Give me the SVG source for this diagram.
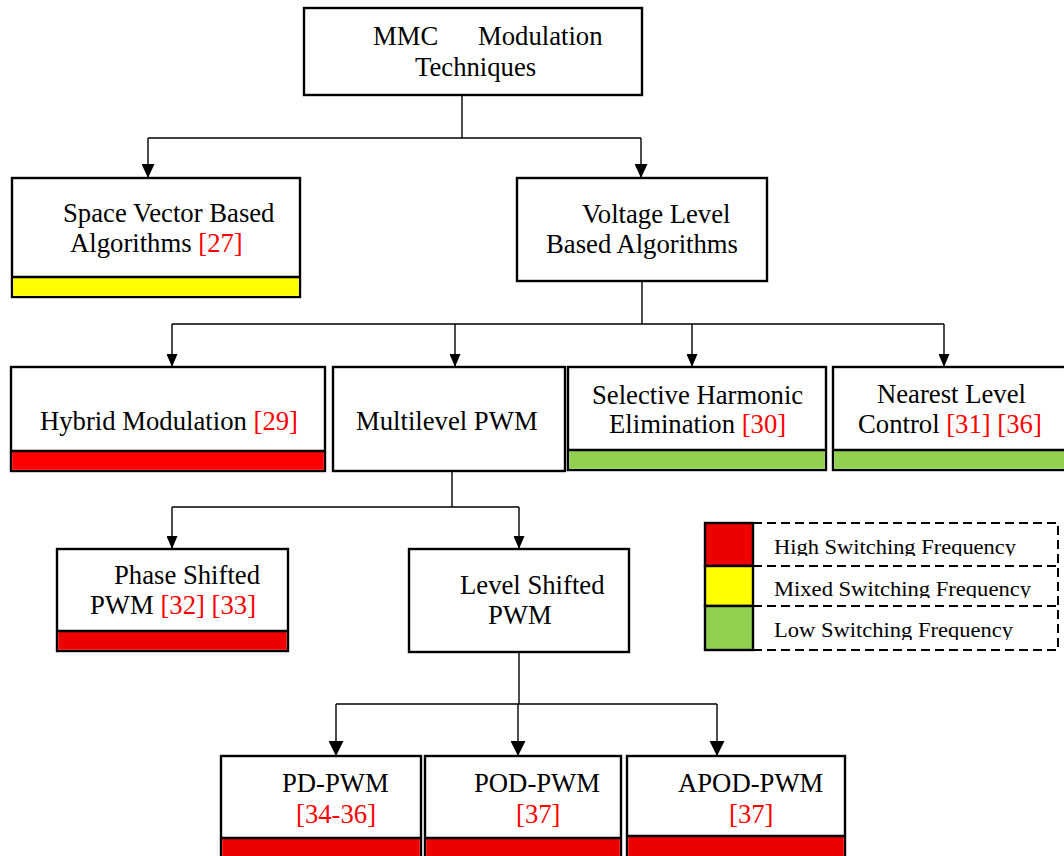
<svg xmlns="http://www.w3.org/2000/svg" width="1064" height="856" viewBox="0 0 1064 856">
  <style>
    .box { fill: #ffffff; stroke: #000000; stroke-width: 2.4; }
    .div { stroke: #000000; stroke-width: 2.4; }
    .wire { fill: none; stroke: #000000; stroke-width: 1.4; }
    .t { font-family: "Liberation Serif", "Times New Roman", serif; font-size: 26.7px; fill: #000000; }
    .ref { fill: #ff0000; }
    .lg { font-family: "Liberation Serif", "Times New Roman", serif; font-size: 20px; fill: #000000; }
    .hi { fill: #ee0000; }
    .hi2 { fill: #ff0000; }
    .mid { fill: #ffff00; }
    .lo { fill: #92d050; }
    .dash { fill: none; stroke: #000000; stroke-width: 2; stroke-dasharray: 9 5; }
  </style>
  <defs>
    <marker id="arrow-m" viewBox="0 0 10 10" refX="10" refY="5" markerUnits="userSpaceOnUse" markerWidth="14" markerHeight="13" orient="auto" preserveAspectRatio="none">
      <path d="M0,0 L10,5 L0,10 z" fill="#000000"/>
    </marker>
    <marker id="arrow-s" viewBox="0 0 10 10" refX="10" refY="5" markerUnits="userSpaceOnUse" markerWidth="13" markerHeight="11" orient="auto" preserveAspectRatio="none">
      <path d="M0,0 L10,5 L0,10 z" fill="#000000"/>
    </marker>
    <marker id="arrow-l" viewBox="0 0 10 10" refX="10" refY="5" markerUnits="userSpaceOnUse" markerWidth="15" markerHeight="15" orient="auto" preserveAspectRatio="none">
      <path d="M0,0 L10,5 L0,10 z" fill="#000000"/>
    </marker>
    <clipPath id="clip-high"><rect x="760" y="526" width="296" height="30"/></clipPath>
    <clipPath id="clip-mixed"><rect x="760" y="568" width="296" height="30"/></clipPath>
    <clipPath id="clip-low"><rect x="760" y="608" width="296" height="32"/></clipPath>
  </defs>

  <!-- connectors -->
  <g id="connectors">
    <path class="wire" d="M462,95 V138 M148,138 H641"/>
    <path class="wire" d="M148,138 V178" marker-end="url(#arrow-m)"/>
    <path class="wire" d="M641,138 V178" marker-end="url(#arrow-m)"/>

    <path class="wire" d="M642,281 V324 M172,324 H944"/>
    <path class="wire" d="M172,324 V367" marker-end="url(#arrow-s)"/>
    <path class="wire" d="M455,324 V367" marker-end="url(#arrow-s)"/>
    <path class="wire" d="M692,324 V367" marker-end="url(#arrow-s)"/>
    <path class="wire" d="M944,324 V367" marker-end="url(#arrow-s)"/>

    <path class="wire" d="M452,471 V507 M172,507 H519"/>
    <path class="wire" d="M172,507 V549" marker-end="url(#arrow-s)"/>
    <path class="wire" d="M519,507 V549" marker-end="url(#arrow-s)"/>

    <path class="wire" d="M519,652 V704 M336,704 H717"/>
    <path class="wire" d="M336,704 V756" marker-end="url(#arrow-l)"/>
    <path class="wire" d="M518,704 V756" marker-end="url(#arrow-l)"/>
    <path class="wire" d="M717,704 V756" marker-end="url(#arrow-l)"/>
  </g>

  <!-- root -->
  <g id="mmc-modulation">
    <rect class="box" x="304" y="8" width="338" height="87"/>
    <text class="t" y="45"><tspan x="373">MMC</tspan><tspan x="478">Modulation</tspan></text>
    <text class="t" x="415" y="76">Techniques</text>
  </g>

  <!-- level 2 -->
  <g id="space-vector">
    <rect class="box" x="12" y="178" width="288" height="119"/>
    <rect class="mid" x="13.2" y="277" width="285.6" height="18.8"/>
    <line class="div" x1="12" y1="277" x2="300" y2="277"/>
    <text class="t" x="63" y="222">Space Vector Based</text>
    <text class="t" x="70" y="252">Algorithms <tspan class="ref">[27]</tspan></text>
  </g>

  <g id="voltage-level">
    <rect class="box" x="517" y="178" width="250" height="103"/>
    <text class="t" x="582" y="223">Voltage Level</text>
    <text class="t" x="546" y="253">Based Algorithms</text>
  </g>

  <!-- level 3 -->
  <g id="hybrid">
    <rect class="box" x="11" y="367" width="314" height="104"/>
    <rect class="hi2" x="12.2" y="451" width="311.6" height="18.8"/>
    <line class="div" x1="11" y1="451" x2="325" y2="451"/>
    <text class="t" x="40" y="430">Hybrid Modulation <tspan class="ref">[29]</tspan></text>
  </g>

  <g id="multilevel-pwm">
    <rect class="box" x="333" y="367" width="232" height="104"/>
    <text class="t" x="356" y="430">Multilevel PWM</text>
  </g>

  <g id="she">
    <rect class="box" x="568" y="367" width="258" height="103"/>
    <rect class="lo" x="569.2" y="450" width="255.6" height="18.8"/>
    <line class="div" x1="568" y1="450" x2="826" y2="450"/>
    <text class="t" x="592" y="404">Selective Harmonic</text>
    <text class="t" x="609" y="433">Elimination <tspan class="ref">[30]</tspan></text>
  </g>

  <g id="nlc">
    <rect class="box" x="833" y="367" width="245" height="103"/>
    <rect class="lo" x="834.2" y="450" width="242" height="18.8"/>
    <line class="div" x1="833" y1="450" x2="1078" y2="450"/>
    <text class="t" x="877" y="403">Nearest Level</text>
    <text class="t" x="858" y="433">Control <tspan class="ref">[31] [36]</tspan></text>
  </g>

  <!-- level 4 -->
  <g id="phase-shifted">
    <rect class="box" x="57" y="549" width="231" height="102"/>
    <rect class="hi" x="58.2" y="631" width="228.6" height="18.8"/>
    <line class="div" x1="57" y1="631" x2="288" y2="631"/>
    <text class="t" x="114" y="584">Phase Shifted</text>
    <text class="t" x="90" y="614">PWM <tspan class="ref">[32] [33]</tspan></text>
  </g>

  <g id="level-shifted">
    <rect class="box" x="409" y="549" width="220" height="103"/>
    <text class="t" x="460" y="594">Level Shifted</text>
    <text class="t" x="488" y="624">PWM</text>
  </g>

  <!-- level 5 -->
  <g id="pd-pwm">
    <rect class="box" x="221" y="756" width="200" height="110"/>
    <rect class="hi" x="222.2" y="838" width="197.6" height="27"/>
    <line class="div" x1="221" y1="838" x2="421" y2="838"/>
    <text class="t" x="282" y="792">PD-PWM</text>
    <text class="t ref" x="296" y="823">[34-36]</text>
  </g>

  <g id="pod-pwm">
    <rect class="box" x="425" y="756" width="196" height="110"/>
    <rect class="hi" x="426.2" y="838" width="193.6" height="27"/>
    <line class="div" x1="425" y1="838" x2="621" y2="838"/>
    <text class="t" x="474" y="792">POD-PWM</text>
    <text class="t ref" x="516" y="823">[37]</text>
  </g>

  <g id="apod-pwm">
    <rect class="box" x="627" y="756" width="218" height="110"/>
    <rect class="hi" x="628.2" y="836" width="215.6" height="29"/>
    <line class="div" x1="627" y1="836" x2="845" y2="836"/>
    <text class="t" x="678" y="792">APOD-PWM</text>
    <text class="t ref" x="729" y="823">[37]</text>
  </g>

  <!-- legend -->
  <g id="legend">
    <rect class="dash" x="753" y="523" width="305" height="127"/>
    <line class="dash" x1="753" y1="566" x2="1058" y2="566"/>
    <line class="dash" x1="753" y1="606" x2="1058" y2="606"/>
    <rect class="hi" x="705" y="523" width="48" height="43" stroke="#000000" stroke-width="2.4"/>
    <rect class="mid" x="705" y="566" width="48" height="40" stroke="#000000" stroke-width="2.4"/>
    <rect class="lo" x="705" y="606" width="48" height="44" stroke="#000000" stroke-width="2.4"/>
    <text class="lg" x="774" y="554" textLength="242" lengthAdjust="spacingAndGlyphs" clip-path="url(#clip-high)">High Switching Frequency</text>
    <text class="lg" x="774" y="596" textLength="257" lengthAdjust="spacingAndGlyphs" clip-path="url(#clip-mixed)">Mixed Switching Frequency</text>
    <text class="lg" x="774" y="637" textLength="239" lengthAdjust="spacingAndGlyphs" clip-path="url(#clip-low)">Low Switching Frequency</text>
  </g>
</svg>
